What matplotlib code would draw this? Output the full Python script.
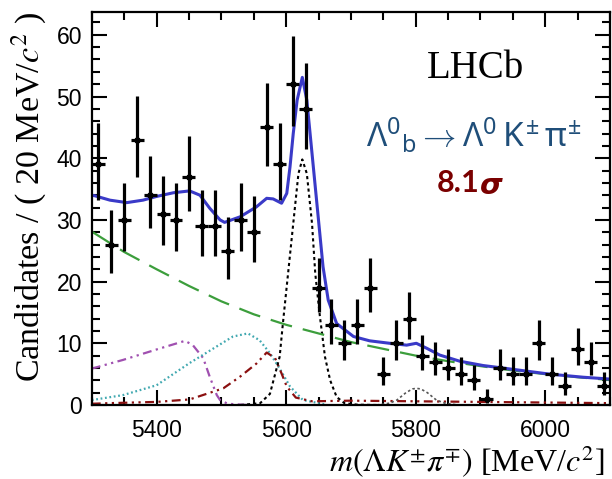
import matplotlib
matplotlib.use("Agg")
import matplotlib.pyplot as plt
import numpy as np
from matplotlib.ticker import MultipleLocator

# data: candidates per 20 MeV bin, 5300-6100
bin_width = 20
bin_centers = np.arange(5310, 6100, bin_width)
counts = [39, 26, 30, 43, 34, 31, 30, 37, 29, 29,
          25, 30, 28, 45, 39, 52, 48, 19, 13, 10,
          13, 19, 5, 10, 14, 8, 7, 6, 5, 4,
          1, 6, 5, 5, 10, 5, 3, 9, 7, 3]

# fit curves
total_x = [5300, 5305, 5328, 5354, 5379, 5400, 5426, 5451, 5467, 5482,
           5498, 5505, 5529, 5554, 5570, 5580, 5593, 5601, 5606, 5611,
           5617, 5625, 5632, 5637, 5642, 5647, 5652, 5657, 5665, 5678,
           5704, 5729, 5760, 5786, 5801, 5817, 5837, 5868, 5904, 5956,
           6007, 6059, 6100]
total_y = [34.0, 33.9, 33.2, 32.8, 33.2, 33.8, 34.4, 34.7, 34.0, 31.9,
           30.0, 29.6, 30.5, 32.1, 33.5, 33.4, 32.7, 34.3, 38.6, 44.0,
           49.4, 53.1, 49.4, 44.0, 38.6, 33.2, 27.8, 22.4, 17.0, 13.2,
           11.1, 10.4, 10.0, 9.7, 10.0, 9.2, 8.1, 7.1, 6.4, 5.7,
           5.0, 4.5, 4.2]

comb_x = [5300, 5350, 5400, 5450, 5500, 5550, 5600, 5650, 5700, 5750,
          5800, 5850, 5900, 5950, 6000, 6050, 6100]
comb_y = [28.1, 24.8, 22.0, 19.3, 16.8, 14.7, 13.0, 11.6, 10.2, 9.1,
          8.0, 7.1, 6.3, 5.6, 5.0, 4.5, 4.05]

sig_x = [5530, 5560, 5575, 5590, 5595, 5603, 5611, 5619, 5625, 5632,
         5640, 5645, 5652, 5660, 5668, 5678, 5690, 5710, 5740]
sig_y = [0.0, 0.3, 1.8, 7.8, 13.2, 21.3, 29.4, 37.5, 39.8, 37.5,
         29.4, 21.3, 14.5, 7.8, 4.0, 1.3, 0.3, 0.05, 0.0]

bump_x = [5740, 5760, 5771, 5785, 5795, 5801, 5808, 5818, 5832, 5845, 5865]
bump_y = [0.0, 0.3, 0.8, 2.0, 2.6, 2.7, 2.6, 2.0, 0.8, 0.3, 0.0]

refl1_x = [5300, 5348, 5400, 5444, 5456, 5472, 5482, 5493, 5498, 5510, 5540]
refl1_y = [5.9, 7.3, 9.0, 10.4, 9.7, 7.6, 4.6, 1.6, 0.8, 0.2, 0.0]

refl2_x = [5300, 5348, 5400, 5451, 5493, 5518, 5541, 5559, 5575, 5590,
           5606, 5626, 5660]
refl2_y = [0.8, 1.6, 3.2, 6.8, 9.5, 11.1, 11.6, 10.5, 8.4, 5.9,
           3.0, 0.8, 0.1]

refl3_x = [5300, 5328, 5400, 5451, 5503, 5529, 5554, 5570, 5583, 5593,
           5601, 5615, 5640, 5700, 5800, 5900, 6000, 6100]
refl3_y = [0.2, 0.3, 0.5, 0.9, 2.7, 4.6, 6.7, 8.5, 7.6, 5.1,
           3.0, 1.2, 0.6, 0.7, 0.6, 0.5, 0.4, 0.3]

# poisson-style errors
n = np.array(counts, dtype=float)
err_lo = np.sqrt(n + 0.25) - 0.5
err_hi = np.sqrt(n + 0.25) + 0.5

plt.rcParams["mathtext.rm"] = "Noto Sans"
plt.rcParams["mathtext.it"] = "Noto Sans"

fig = plt.figure(figsize=(6.12, 4.79), dpi=100)
ax = fig.add_axes([0.150, 0.1545, 0.8467, 0.8205])

lw = 1.6
ax.plot(refl1_x, refl1_y, color="#a050b0", lw=lw, ls=(0, (4, 2, 1, 2, 1, 2)))
ax.plot(refl2_x, refl2_y, color="#40a8b0", lw=lw, ls=(0, (0.8, 1.2)))
ax.plot(refl3_x, refl3_y, color="#8b1010", lw=lw, ls=(0, (4, 2, 1, 2, 1, 2)))
ax.plot(bump_x, bump_y, color="#555555", lw=1.2, ls=(0, (1.5, 1.5)))
ax.plot(sig_x, sig_y, color="black", lw=1.5, ls=(0, (1.5, 1.5)))
ax.plot(comb_x, comb_y, color="#3c9e3c", lw=1.6, ls=(0, (10, 5)))
ax.plot(total_x, total_y, color="#3a3ac8", lw=2.2)

ax.errorbar(bin_centers, counts, yerr=[err_lo, err_hi], xerr=bin_width / 2,
            fmt="s", ms=3, color="black", ecolor="black", elinewidth=2.3,
            capsize=0, zorder=5)

ax.set_xlim(5300, 6100)
ax.set_ylim(0, 63.7)

ax.xaxis.set_major_locator(MultipleLocator(200))
ax.xaxis.set_minor_locator(MultipleLocator(50))
ax.yaxis.set_major_locator(MultipleLocator(10))
ax.yaxis.set_minor_locator(MultipleLocator(2))
ax.tick_params(which="both", direction="in", top=True, right=True,
               width=1.5, colors="black")
ax.tick_params(which="major", length=11, labelsize=16.5)
ax.tick_params(axis="x", which="major", pad=10)
ax.tick_params(axis="y", which="major", pad=7)
ax.tick_params(which="minor", length=6)
for sp in ax.spines.values():
    sp.set_linewidth(1.6)
for lab in ax.get_xticklabels() + ax.get_yticklabels():
    lab.set_family(["Liberation Sans Narrow", "Liberation Sans"])

ax.set_xlabel(r"$m(\mathit{\Lambda K}^{\pm}\pi^{\mp})$ [MeV/$c^2$]",
              family="Liberation Serif", fontsize=23, math_fontfamily="stix",
              ha="right")
ax.xaxis.set_label_coords(0.990, -0.100)
ax.set_ylabel(r"Candidates / ( 20 MeV/$c^2$ )", family="Liberation Serif",
              fontsize=24.5, math_fontfamily="stix", loc="top", labelpad=6)

fig.text(0.777, 0.858, "LHCb", family="Liberation Serif", fontsize=28,
         ha="center", va="center")
fig.text(0.775, 0.718, r"$\Lambda^{0}{}_{b}\rightarrow\Lambda^{0}\,K^{\pm}\,\pi^{\pm}$",
         math_fontfamily="custom", fontsize=24, color="#1f4e79",
         ha="center", va="center")
fig.text(0.784, 0.617, "8.1", family=["Lato", "DejaVu Sans"], fontweight="bold",
         fontsize=22, color="#7a0000", ha="right", va="center")
fig.text(0.785, 0.612, "σ", family="DejaVu Sans", fontweight="bold",
         fontstyle="italic", fontsize=21, color="#7a0000", ha="left",
         va="center")

fig.savefig("out.png", dpi=100)
